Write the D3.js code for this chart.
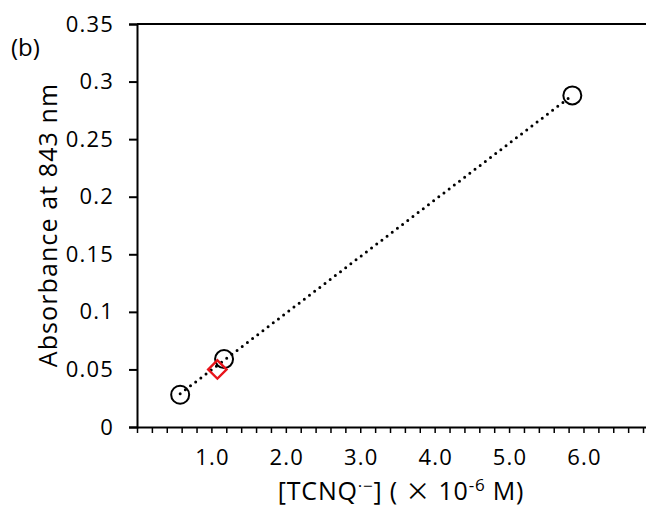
<!DOCTYPE html>
<html><head><meta charset="utf-8">
<script src="https://cdn.jsdelivr.net/npm/d3@7"></script>
<style>body{margin:0;background:#fff}svg{display:block}text{font-family:"Open Sans",sans-serif;fill:#000}</style>
</head><body><svg id="c" width="646" height="511"></svg>
<script>
const circleX = [0.58, 1.17, 5.85];
const circleY = [0.028, 0.059, 0.288];
const diamondX = [1.08];
const diamondY = [0.050];
const yTicks = [0, 0.05, 0.1, 0.15, 0.2, 0.25, 0.3, 0.35];
const xLabels = [1, 2, 3, 4, 5, 6];

const svg = d3.select("#c");
const x = d3.scaleLinear().domain([0, 6.84]).range([137, 646]);
const y = d3.scaleLinear().domain([0, 0.35]).range([427, 24]);

// top border
svg.append("line").attr("x1", 137).attr("x2", 646).attr("y1", y(0.35)).attr("y2", y(0.35)).attr("stroke", "#000").attr("stroke-width", 2);

// y axis
const ya = svg.append("g").attr("transform", "translate(137,0)")
  .call(d3.axisLeft(y).tickValues(yTicks).tickSize(8).tickPadding(15).tickFormat(d => d === 0 ? "0" : String(+d.toFixed(2))));
ya.select(".domain").attr("stroke-width", 2);
ya.selectAll(".tick line").attr("stroke-width", 2);
ya.selectAll("text").attr("font-family", null).style("font-size", "22px").style("letter-spacing", "1.2px");

// x axis
const minor = d3.range(0, 35).map(i => +(i * 0.2).toFixed(1));
const xa = svg.append("g").attr("transform", "translate(0,427)")
  .call(d3.axisBottom(x).tickValues(minor).tickSize(6).tickSizeOuter(0).tickFormat(() => ""));
xa.select(".domain").attr("stroke-width", 2);
xa.selectAll(".tick line").attr("stroke-width", 1.5);
svg.append("g").selectAll("text").data(xLabels).join("text")
  .attr("x", d => x(d) + 1).attr("y", 465).attr("text-anchor", "middle")
  .style("font-size", "22px").style("letter-spacing", "1.2px").text(d => d.toFixed(1));

// trend line (least squares fit of circle data)
const mx = d3.mean(circleX), my = d3.mean(circleY);
const slope = d3.sum(circleX.map((v, i) => (v - mx) * (circleY[i] - my))) / d3.sum(circleX.map(v => (v - mx) ** 2));
const icpt = my - slope * mx;
const x0 = d3.min(circleX), x1 = d3.max(circleX);
svg.append("line").attr("x1", x(x0)).attr("y1", y(icpt + slope * x0)).attr("x2", x(x1)).attr("y2", y(icpt + slope * x1))
  .attr("stroke", "#000").attr("stroke-width", 3).attr("stroke-dasharray", "0 6.5").attr("stroke-linecap", "round");

// circles
svg.append("g").selectAll("circle").data(circleX).join("circle")
  .attr("cx", d => x(d)).attr("cy", (d, i) => y(circleY[i])).attr("r", 9)
  .attr("fill", "none").attr("stroke", "#000").attr("stroke-width", 2);

// diamond
svg.append("g").selectAll("path").data(diamondX).join("path")
  .attr("transform", (d, i) => `translate(${x(d)},${y(diamondY[i])}) rotate(45)`)
  .attr("d", "M-6.5,-6.5H6.5V6.5H-6.5Z").attr("fill", "none").attr("stroke", "#e8141b").attr("stroke-width", 2.4);

// labels
svg.append("text").attr("x", 11).attr("y", 56).style("font-size", "24px").text("(b)");
svg.append("text").attr("transform", "translate(57,225) rotate(-90)").attr("text-anchor", "middle")
  .style("font-size", "25px").style("letter-spacing", "1.1px").text("Absorbance at 843 nm");
const xl = svg.append("text").attr("x", 401).attr("y", 500).attr("text-anchor", "middle")
  .style("font-size", "25px").style("letter-spacing", "0.8px");
xl.append("tspan").text("[TCNQ");
xl.append("tspan").attr("dy", -8).style("font-size", "17px").text("·−");
xl.append("tspan").attr("dy", 8).text("] ( ");
xl.append("tspan").style("font-family", "'Noto Sans CJK JP'").text("×");
xl.append("tspan").text(" 10");
xl.append("tspan").attr("dy", -9).style("font-size", "17px").text("-6");
xl.append("tspan").attr("dy", 9).text(" M)");
</script></body></html>
